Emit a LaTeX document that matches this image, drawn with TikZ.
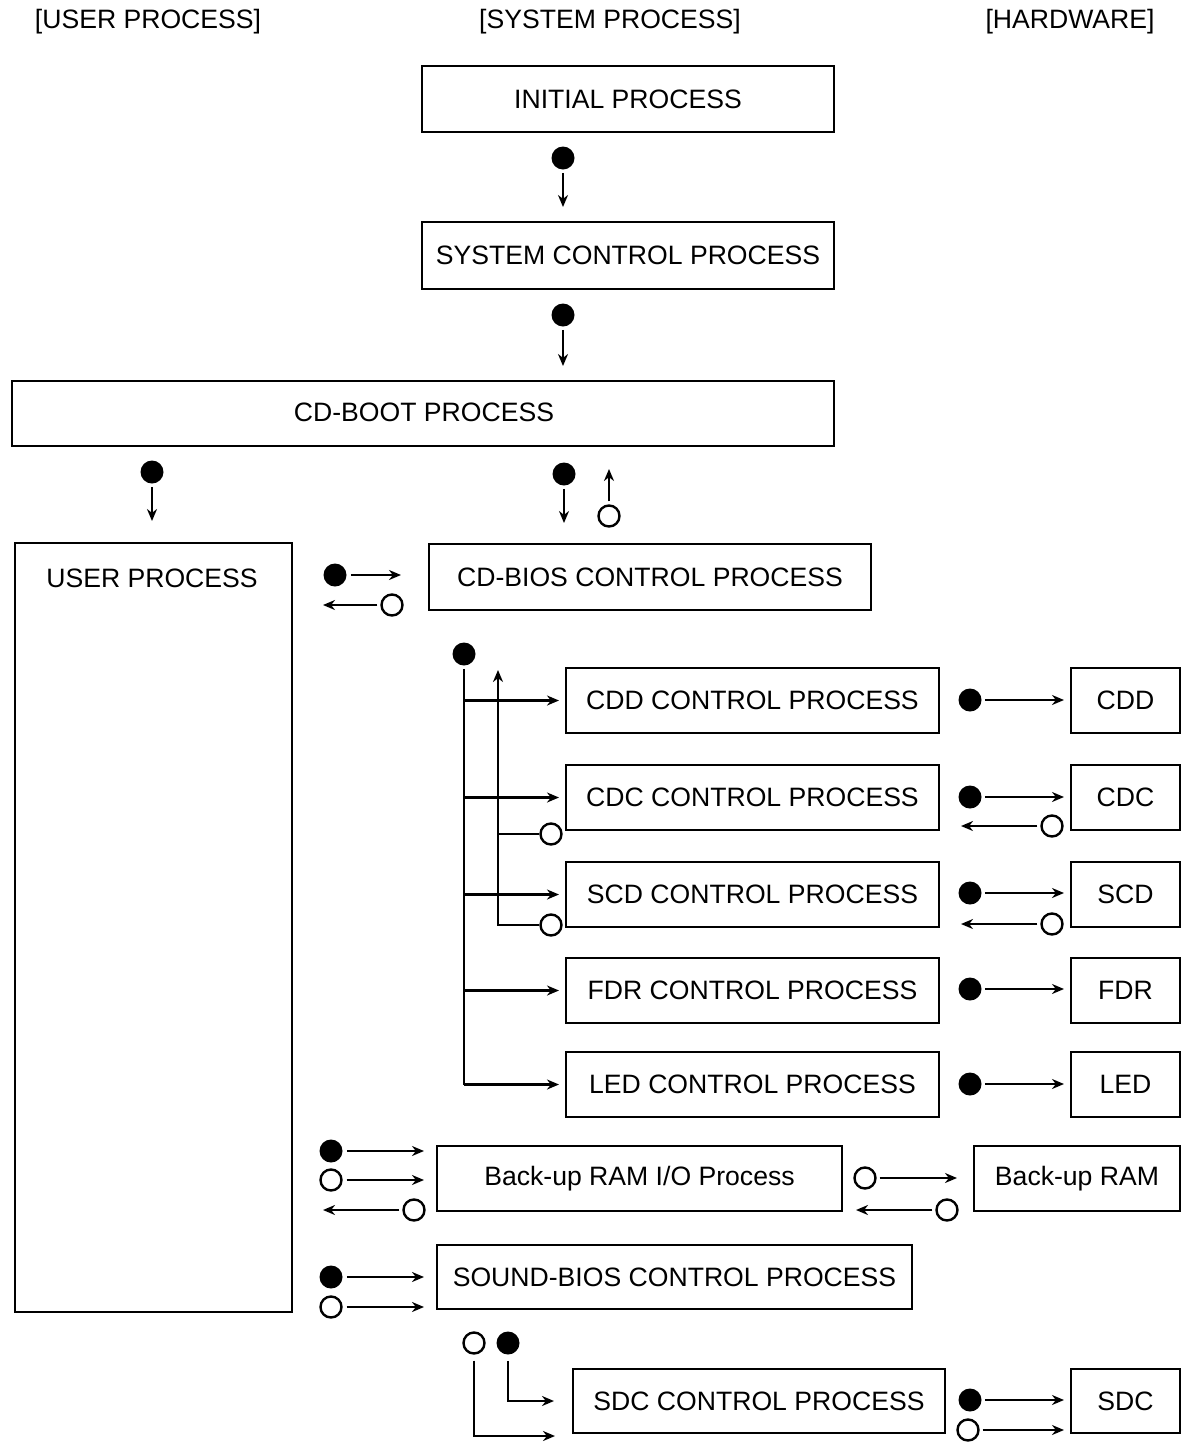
\documentclass[tikz,border=0pt]{standalone}
\usepackage{fontspec}
\setmainfont{Liberation Sans}
\usetikzlibrary{arrows.meta,calc}
\begin{document}
\begin{tikzpicture}[x=0.5pt,y=-0.5pt,
  every node/.style={font=\fontsize{13.3}{16}\selectfont},
  box/.style={draw,line width=1pt,rectangle,inner sep=0pt,minimum height=32.5pt},
  hdr/.style={inner sep=0pt},
  fdot/.style={circle,fill=black,inner sep=0pt,minimum size=11.5pt},
  odot/.style={circle,draw,line width=1.2pt,inner sep=0pt,minimum size=10.5pt},
  arr/.style={line width=1.3pt,-{Stealth[length=6pt,width=5pt]}},
  ln/.style={line width=1.3pt}]
\useasboundingbox (0,0) rectangle (1195,1452);

% headers
\node[hdr] (h1) at (148,22) {[USER PROCESS]};
\node[hdr] (h2) at (610,22) {[SYSTEM PROCESS]};
\node[hdr] (h3) at (1070,22) {[HARDWARE]};

% system boxes
\node[box,minimum width=206pt,minimum height=33pt] (init) at (628,99) {INITIAL PROCESS};
\node[box,minimum width=206pt,minimum height=33.5pt] (sys) at (628,255.5) {SYSTEM CONTROL PROCESS};
\node[box,minimum width=411pt] (boot) at (423,413.5) {};
\node[hdr] (boott) at (424,412) {CD-BOOT PROCESS};
\node[box,minimum width=138.5pt,minimum height=384.5pt] (user) at (153.5,927.5) {};
\node[hdr] (usert) at (152,578) {USER PROCESS};
\node[box,minimum width=221pt,minimum height=33pt] (bios) at (650,577) {CD-BIOS CONTROL PROCESS};

\node[box,minimum width=186.5pt] (cdd) at (752.5,700.5) {CDD CONTROL PROCESS};
\node[box,minimum width=186.5pt] (cdc) at (752.5,797.5) {CDC CONTROL PROCESS};
\node[box,minimum width=186.5pt] (scd) at (752.5,894.5) {SCD CONTROL PROCESS};
\node[box,minimum width=186.5pt] (fdr) at (752.5,990.5) {FDR CONTROL PROCESS};
\node[box,minimum width=186.5pt] (led) at (752.5,1084.5) {LED CONTROL PROCESS};
\node[box,minimum width=202.5pt] (bram) at (639.5,1178.5) {Back-up RAM I/O Process};
\node[box,minimum width=237.5pt,minimum height=32pt] (sound) at (674.5,1277) {SOUND-BIOS CONTROL PROCESS};
\node[box,minimum width=186pt,minimum height=32pt] (sdc) at (759,1401) {SDC CONTROL PROCESS};

% hardware boxes
\node[box,minimum width=54.5pt] (hcdd) at (1125.5,700.5) {CDD};
\node[box,minimum width=54.5pt] (hcdc) at (1125.5,797.5) {CDC};
\node[box,minimum width=54.5pt] (hscd) at (1125.5,894.5) {SCD};
\node[box,minimum width=54.5pt] (hfdr) at (1125.5,990.5) {FDR};
\node[box,minimum width=54.5pt] (hled) at (1125.5,1084.5) {LED};
\node[box,minimum width=103pt] (hbram) at (1077,1178.5) {Back-up RAM};
\node[box,minimum width=54.5pt,minimum height=32pt] (hsdc) at (1125.5,1401) {SDC};

% dots
\node[fdot] (d1) at (563,158) {};
\node[fdot] (d2) at (563,315) {};
\node[fdot] (d3) at (152,472) {};
\node[fdot] (d4) at (564,474) {};
\node[odot] (o1) at (609,516) {};
\node[fdot] (d5) at (335,575) {};
\node[odot] (o2) at (392,605) {};
\node[fdot] (d6) at (464,654) {};
\node[odot] (oc) at (551,834) {};
\node[odot] (os) at (551,925) {};
\coordinate (uptop) at (498,670);

\node[fdot] (h1d) at (970,700) {};
\node[fdot] (h2d) at (970,797) {};
\node[odot] (h2o) at (1052,826) {};
\node[fdot] (h3d) at (970,893) {};
\node[odot] (h3o) at (1052,924) {};
\node[fdot] (h4d) at (970,989) {};
\node[fdot] (h5d) at (970,1084) {};
\node[odot] (b1o) at (865,1178) {};
\node[odot] (b2o) at (947,1210) {};
\node[fdot] (u1d) at (331,1151) {};
\node[odot] (u1o) at (331,1180) {};
\node[odot] (u2o) at (414,1210) {};
\node[fdot] (s1d) at (331,1277) {};
\node[odot] (s1o) at (331,1307) {};
\node[odot] (s3o) at (474,1343) {};
\node[fdot] (s3d) at (508,1343) {};
\coordinate (sdcend) at (555,1436);
\node[fdot] (h6d) at (970,1400) {};
\node[odot] (h6o) at (968,1430) {};

% vertical connectors
\draw[arr,shorten <=1.5pt,shorten >=7pt] (d1) -- (d1 |- sys.north);
\draw[arr,shorten <=1.5pt,shorten >=7pt] (d2) -- (d2 |- boot.north);
\draw[arr,shorten <=1.5pt,shorten >=10.5pt] (d3) -- (d3 |- user.north);
\draw[arr,shorten <=1.5pt,shorten >=10pt] (d4) -- (d4 |- bios.north);
\draw[arr,shorten <=1.5pt,shorten >=11pt] (o1) -- (o1 |- boot.south);

% user <-> bios
\draw[arr,shorten <=2pt,shorten >=13.5pt] (d5) -- (d5 -| bios.west);
\draw[arr,shorten <=1.5pt,shorten >=15pt] (o2) -- (o2 -| user.east);

% bios tree
\draw[ln,shorten <=1.5pt] (d6) -- (d6 |- led.west);
\draw[arr,shorten >=3pt] (d6 |- cdd.west) -- (cdd.west);
\draw[arr,shorten >=3pt] (d6 |- cdc.west) -- (cdc.west);
\draw[arr,shorten >=3pt] (d6 |- scd.west) -- (scd.west);
\draw[arr,shorten >=3pt] (d6 |- fdr.west) -- (fdr.west);
\draw[arr,shorten >=3pt] (d6 |- led.west) -- (led.west);
\draw[ln] (oc) -- (oc -| uptop);
\draw[arr] (os) -| (uptop);

% hardware connectors
\draw[arr,shorten <=1.5pt,shorten >=3pt] (h1d) -- (h1d -| hcdd.west);
\draw[arr,shorten <=1.5pt,shorten >=3pt] (h2d) -- (h2d -| hcdc.west);
\draw[arr,shorten <=1.5pt,shorten >=10.5pt] (h2o) -- (h2o -| cdc.east);
\draw[arr,shorten <=1.5pt,shorten >=3pt] (h3d) -- (h3d -| hscd.west);
\draw[arr,shorten <=1.5pt,shorten >=10.5pt] (h3o) -- (h3o -| scd.east);
\draw[arr,shorten <=1.5pt,shorten >=3pt] (h4d) -- (h4d -| hfdr.west);
\draw[arr,shorten <=1.5pt,shorten >=3pt] (h5d) -- (h5d -| hled.west);
\draw[arr,shorten <=1.5pt,shorten >=8pt] (b1o) -- (b1o -| hbram.west);
\draw[arr,shorten <=1.5pt,shorten >=6.5pt] (b2o) -- (b2o -| bram.east);
\draw[arr,shorten <=1.5pt,shorten >=3pt] (h6d) -- (h6d -| hsdc.west);
\draw[arr,shorten <=1.5pt,shorten >=3pt] (h6o) -- (h6o -| hsdc.west);

% user <-> backup RAM / sound
\draw[arr,shorten <=2pt,shorten >=6pt] (u1d) -- (u1d -| bram.west);
\draw[arr,shorten <=2pt,shorten >=6pt] (u1o) -- (u1o -| bram.west);
\draw[arr,shorten <=1.5pt,shorten >=15pt] (u2o) -- (u2o -| user.east);
\draw[arr,shorten <=2pt,shorten >=6pt] (s1d) -- (s1d -| sound.west);
\draw[arr,shorten <=2pt,shorten >=6pt] (s1o) -- (s1o -| sound.west);

% sound -> sdc
\draw[arr,shorten <=3pt,shorten >=9pt] (s3d) |- (sdc.west);
\draw[arr,shorten <=3pt] (s3o) |- (sdcend);
\end{tikzpicture}
\end{document}
